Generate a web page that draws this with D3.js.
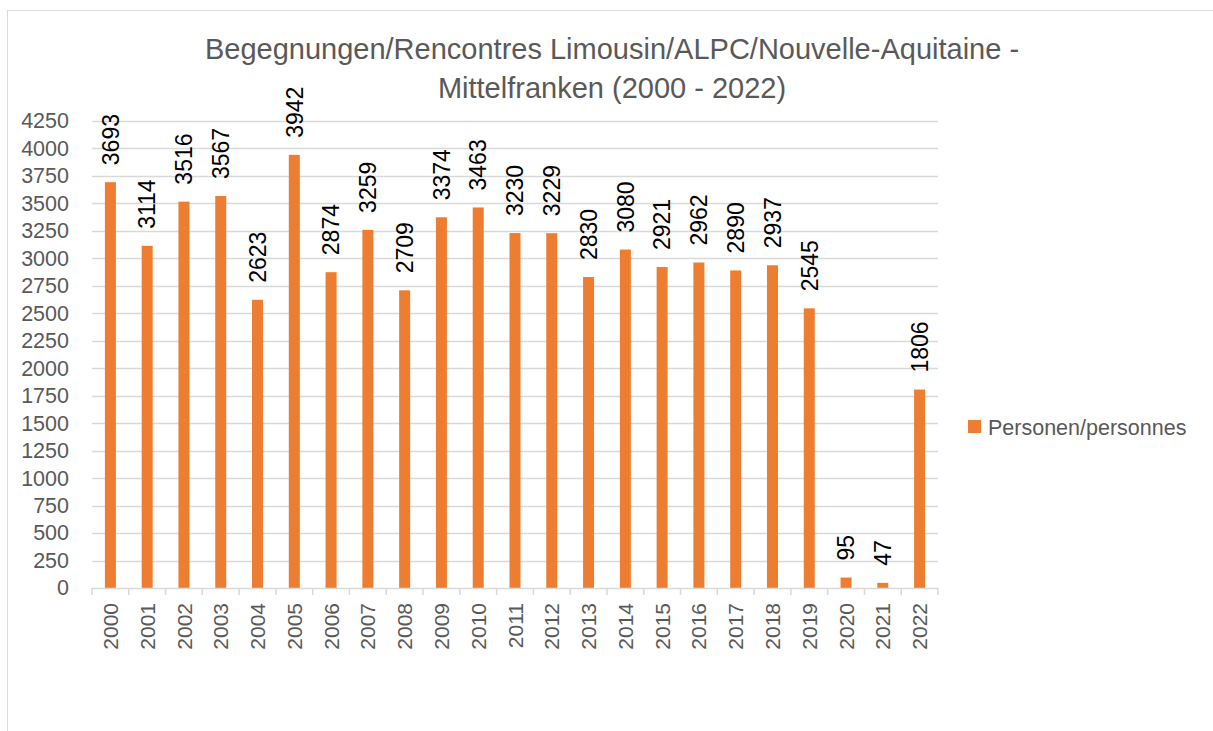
<!DOCTYPE html>
<html>
<head>
<meta charset="utf-8">
<script src="https://cdn.jsdelivr.net/npm/d3@7"></script>
<style>
  body { margin: 0; background: #fff; }
  text { font-family: "Liberation Sans", Arial, sans-serif; }
</style>
</head>
<body>
<svg id="chart" width="1213" height="731"></svg>
<script>
// data
var years = ["2000","2001","2002","2003","2004","2005","2006","2007","2008","2009","2010",
             "2011","2012","2013","2014","2015","2016","2017","2018","2019","2020","2021","2022"];
var persons = [3693,3114,3516,3567,2623,3942,2874,3259,2709,3374,3463,
               3230,3229,2830,3080,2921,2962,2890,2937,2545,95,47,1806];
var yTicks = d3.range(0, 4251, 250);
var titleLines = ["Begegnungen/Rencontres Limousin/ALPC/Nouvelle-Aquitaine -",
                  "Mittelfranken (2000 - 2022)"];
var seriesName = "Personen/personnes";

var svg = d3.select("#chart");
var plotL = 92, plotR = 938, plotT = 121, plotB = 588;
var grey = "#595959", gridCol = "#d9d9d9", orange = "#ed7d31";

// chart frame
svg.append("rect")
  .attr("x", 7.5).attr("y", 10.5).attr("width", 1300).attr("height", 900)
  .attr("fill", "none").attr("stroke", gridCol);

var xb = d3.scaleBand().domain(years).range([plotL, plotR]);
var y = d3.scaleLinear().domain([0, 4250]).range([plotB, plotT]);

// gridlines
svg.append("g").selectAll("line").data(yTicks.slice(1)).enter().append("line")
  .attr("x1", plotL).attr("x2", plotR)
  .attr("y1", function(d) { return Math.round(y(d)) + 0.5; })
  .attr("y2", function(d) { return Math.round(y(d)) + 0.5; })
  .attr("stroke", gridCol).attr("stroke-width", 1.5);

// y axis labels
var yAxis = d3.axisLeft(y).tickValues(yTicks).tickFormat(d3.format("d")).tickSize(0).tickPadding(0);
var gy = svg.append("g").attr("transform", "translate(69,0)").call(yAxis);
gy.select(".domain").remove();
gy.selectAll("text").attr("fill", grey).style("font-size", "21.5px")
  .style("font-family", "'Liberation Sans', Arial, sans-serif");

// bars
svg.append("g").selectAll("rect").data(persons).enter().append("rect")
  .attr("x", function(d, i) { return xb(years[i]) + xb.bandwidth() / 2 - 5.5; })
  .attr("width", 11)
  .attr("y", function(d) { return y(d); })
  .attr("height", function(d) { return plotB - y(d); })
  .attr("fill", orange);

// x axis line and tick marks
svg.append("line").attr("x1", plotL).attr("x2", plotR)
  .attr("y1", plotB + 0.5).attr("y2", plotB + 0.5)
  .attr("stroke", gridCol).attr("stroke-width", 1.5);
svg.append("g").selectAll("line").data(d3.range(years.length + 1)).enter().append("line")
  .attr("x1", function(i) { return plotL + i * xb.step(); })
  .attr("x2", function(i) { return plotL + i * xb.step(); })
  .attr("y1", plotB).attr("y2", plotB + 7)
  .attr("stroke", gridCol).attr("stroke-width", 1.5);

// category labels
svg.append("g").selectAll("text").data(years).enter().append("text")
  .attr("transform", function(d) {
    return "translate(" + (xb(d) + xb.bandwidth() / 2) + ",603) rotate(-90)";
  })
  .attr("text-anchor", "end").attr("dy", "0.36em")
  .attr("fill", grey).style("font-size", "21px")
  .text(function(d) { return d; });

// data labels
svg.append("g").selectAll("text").data(persons).enter().append("text")
  .attr("transform", function(d, i) {
    return "translate(" + (xb(years[i]) + xb.bandwidth() / 2) + "," + (y(d) - 17) + ") rotate(-90)";
  })
  .attr("text-anchor", "start").attr("dy", "0.36em")
  .attr("fill", "#000").style("font-size", "23px")
  .text(function(d) { return d; });

// title
svg.append("g").selectAll("text").data(titleLines).enter().append("text")
  .attr("x", 612).attr("y", function(d, i) { return 59 + i * 39; })
  .attr("text-anchor", "middle").attr("fill", grey).style("font-size", "29px")
  .text(function(d) { return d; });

// legend
svg.append("rect").attr("x", 968).attr("y", 420).attr("width", 13).attr("height", 13).attr("fill", orange);
svg.append("text").attr("x", 988).attr("y", 435).attr("fill", grey).style("font-size", "21.5px").text(seriesName);
</script>
</body>
</html>
